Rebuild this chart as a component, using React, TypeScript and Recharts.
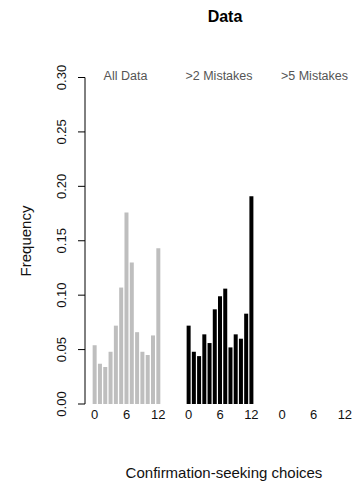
import { BarChart, Bar, XAxis, YAxis } from 'recharts';

const choices = ['0', '1', '2', '3', '4', '5', '6', '7', '8', '9', '10', '11', '12'];
const allData = [0.054, 0.037, 0.034, 0.048, 0.072, 0.107, 0.176, 0.13, 0.066, 0.048, 0.045, 0.063, 0.143];
const over2 = [0.072, 0.048, 0.044, 0.064, 0.056, 0.087, 0.099, 0.106, 0.052, 0.064, 0.06, 0.083, 0.191];
const over5 = [0, 0, 0, 0, 0, 0, 0, 0, 0, 0, 0, 0, 0];
const yTicks = [0, 0.05, 0.1, 0.15, 0.2, 0.25, 0.3];
const panelNames = ['All Data', '>2 Mistakes', '>5 Mistakes'];

const W = 354;
const H = 482;
const font = '"Liberation Sans", Arial, sans-serif';

const rows = (vals: number[]) => choices.map((c, i) => ({ c, v: vals[i] }));

// rotated tick labels like R's default las=0
const YTick = (props: any) => {
  const { y, payload } = props;
  const bx = 66;
  return (
    <text x={bx} y={y} transform={`rotate(-90 ${bx} ${y})`} textAnchor="middle" fontSize={13} fill="#111" fontFamily={font}>
      {payload.value.toFixed(2)}
    </text>
  );
};

function Panel({ vals, color, left, right, withY }: { vals: number[]; color: string; left: number; right: number; withY?: boolean }) {
  return (
    <div style={{ position: 'absolute', left: 0, top: 0 }}>
      <BarChart
        width={W}
        height={H}
        data={rows(vals)}
        margin={{ top: 77.5, bottom: 48, left: withY ? 35 : left, right }}
        barCategoryGap="12%"
      >
        <XAxis
          dataKey="c"
          interval={5}
          axisLine={false}
          tickLine={false}
          height={30}
          tickMargin={0}
          padding={withY ? { left: 7, right: 0 } : undefined}
          tick={{ fontSize: 13, fill: '#111', fontFamily: font }}
        />
        {withY ? (
          <YAxis
            width={50}
            domain={[0, 0.3]}
            ticks={yTicks}
            tickSize={7}
            axisLine={{ stroke: '#000' }}
            tickLine={{ stroke: '#000' }}
            tick={<YTick />}
          />
        ) : (
          <YAxis hide domain={[0, 0.3]} />
        )}
        <Bar dataKey="v" fill={color} isAnimationActive={false} />
      </BarChart>
    </div>
  );
}

export default function App() {
  const labelX = [125.5, 219, 314.5];
  return (
    <div style={{ position: 'absolute', left: 0, top: 0, width: W, height: H, background: '#fff', fontFamily: font }}>
      <Panel vals={allData} color="#bebebe" left={85} right={193} withY />
      <Panel vals={over2} color="#000" left={186} right={100} />
      <Panel vals={over5} color="#000" left={279.5} right={6.5} />
      {panelNames.map((n, i) => (
        <div key={n} style={{ position: 'absolute', left: labelX[i] - 50, width: 100, top: 69, textAlign: 'center', fontSize: 12.5, lineHeight: '15px', color: '#555' }}>
          {n}
        </div>
      ))}
      <div style={{ position: 'absolute', left: 175, width: 100, top: 8, textAlign: 'center', fontSize: 16, fontWeight: 'bold', color: '#000' }}>
        Data
      </div>
      <div style={{ position: 'absolute', left: 74, width: 300, top: 464, textAlign: 'center', fontSize: 15, lineHeight: '18px', color: '#111' }}>
        Confirmation-seeking choices
      </div>
      <div style={{ position: 'absolute', left: 26 - 60, width: 120, top: 241 - 9, textAlign: 'center', fontSize: 15, lineHeight: '18px', color: '#111', transform: 'rotate(-90deg)' }}>
        Frequency
      </div>
    </div>
  );
}
